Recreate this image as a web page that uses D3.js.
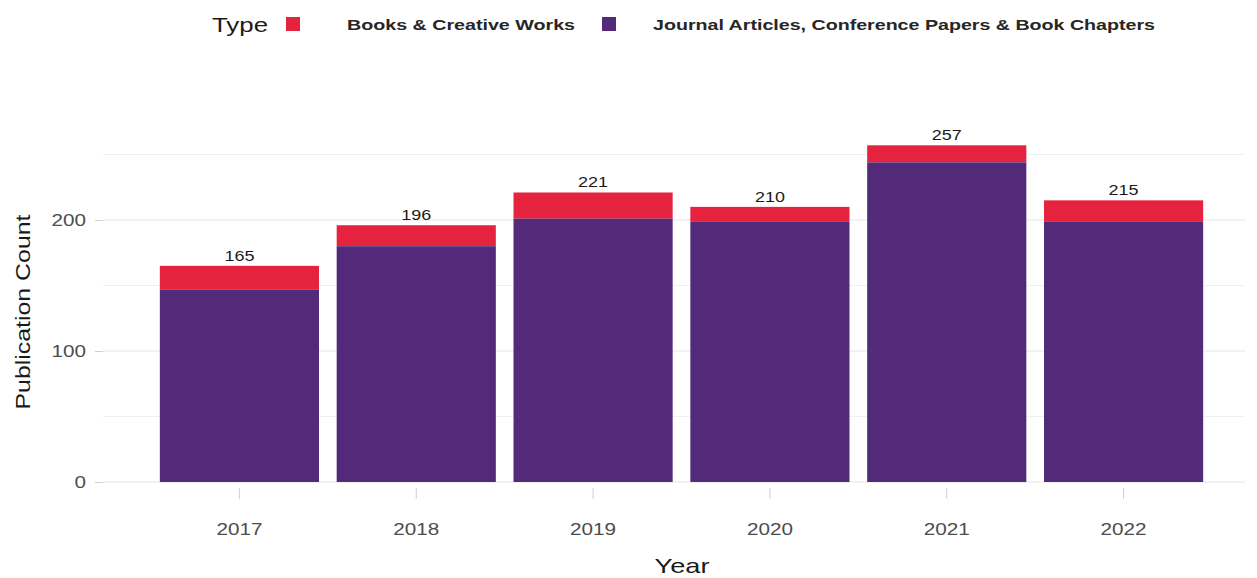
<!DOCTYPE html>
<html>
<head>
<meta charset="utf-8">
<script src="https://cdn.jsdelivr.net/npm/d3@7"></script>
<style>
  body { margin: 0; background: #fff; }
  text { font-family: "Liberation Sans", Arial, sans-serif; }
</style>
</head>
<body>
<div id="chart"></div>
<script>
// data
const years = ["2017", "2018", "2019", "2020", "2021", "2022"];
const journalCounts = [147, 180, 201, 199, 244, 199];
const bookCounts = [18, 16, 20, 11, 13, 16];
const seriesNames = ["Books & Creative Works", "Journal Articles, Conference Papers & Book Chapters"];
const seriesColors = ["#e5233f", "#532a7a"];
const yMajorTicks = [0, 100, 200];
const yMinorTicks = [50, 150, 250];

const width = 1257, height = 578;
const panel = { left: 103, right: 1245 };

const svg = d3.select("#chart").append("svg")
    .attr("width", width)
    .attr("height", height);

const x = d3.scaleBand()
    .domain(years)
    .range([151, 1212])
    .paddingInner(0.1)
    .paddingOuter(0.05);

const y = d3.scaleLinear()
    .domain([0, 250])
    .range([482, 154.5]);

// grid lines
svg.append("g").selectAll("line.minor")
    .data(yMinorTicks)
    .join("line")
    .attr("x1", panel.left).attr("x2", panel.right)
    .attr("y1", d => y(d)).attr("y2", d => y(d))
    .attr("stroke", "#f0f0f0")
    .attr("stroke-width", 1);

svg.append("g").selectAll("line.major")
    .data(yMajorTicks)
    .join("line")
    .attr("x1", panel.left).attr("x2", panel.right)
    .attr("y1", d => y(d)).attr("y2", d => y(d))
    .attr("stroke", "#e6e6e6")
    .attr("stroke-width", 1.2);

// stacked bars
const rows = years.map((yr, i) => ({ year: yr, journal: journalCounts[i], books: bookCounts[i] }));
const stack = d3.stack().keys(["books", "journal"]).order(d3.stackOrderReverse);
const layers = stack(rows);

svg.append("g").selectAll("g")
    .data(layers)
    .join("g")
    .attr("fill", d => d.key === "books" ? seriesColors[0] : seriesColors[1])
    .selectAll("rect")
    .data(d => d)
    .join("rect")
    .attr("x", d => x(d.data.year))
    .attr("width", x.bandwidth())
    .attr("y", d => y(d[1]))
    .attr("height", d => y(d[0]) - y(d[1]));

// totals above bars
svg.append("g").selectAll("text")
    .data(rows)
    .join("text")
    .attr("x", d => x(d.year) + x.bandwidth() / 2)
    .attr("y", d => y(d.journal + d.books) - 5)
    .attr("text-anchor", "middle")
    .attr("font-size", 15)
    .attr("fill", "#1a1a1a")
    .attr("textLength", d => String(d.journal + d.books).length * 10)
    .attr("lengthAdjust", "spacingAndGlyphs")
    .text(d => d.journal + d.books);

// y axis
const yAxis = svg.append("g")
    .attr("transform", `translate(${panel.left},0)`)
    .call(d3.axisLeft(y).tickValues(yMajorTicks).tickSize(8).tickPadding(9));
yAxis.select(".domain").remove();
yAxis.selectAll(".tick line").attr("stroke", "#cfcfcf");
yAxis.selectAll(".tick text")
    .attr("font-size", 17)
    .attr("fill", "#4d4d4d")
    .attr("font-family", "Liberation Sans, Arial, sans-serif")
    .attr("textLength", d => String(d).length * 11.5)
    .attr("lengthAdjust", "spacingAndGlyphs");

// x axis
const xAxis = svg.append("g")
    .attr("transform", "translate(0,488)")
    .call(d3.axisBottom(x).tickSize(11).tickPadding(24));
xAxis.select(".domain").remove();
xAxis.selectAll(".tick line").attr("stroke", "#cfcfcf");
xAxis.selectAll(".tick text")
    .attr("font-size", 17)
    .attr("fill", "#4d4d4d")
    .attr("font-family", "Liberation Sans, Arial, sans-serif")
    .attr("textLength", 46)
    .attr("lengthAdjust", "spacingAndGlyphs");

// axis titles
svg.append("text")
    .attr("x", 682).attr("y", 573)
    .attr("text-anchor", "middle")
    .attr("font-size", 21)
    .attr("fill", "#1a1a1a")
    .attr("textLength", 55)
    .attr("lengthAdjust", "spacingAndGlyphs")
    .text("Year");

svg.append("text")
    .attr("transform", "translate(30,312) rotate(-90)")
    .attr("text-anchor", "middle")
    .attr("font-size", 21)
    .attr("fill", "#1a1a1a")
    .attr("textLength", 195)
    .attr("lengthAdjust", "spacingAndGlyphs")
    .text("Publication Count");

// legend
const legend = svg.append("g");
legend.append("text")
    .attr("x", 212).attr("y", 32)
    .attr("font-size", 20)
    .attr("fill", "#1a1a1a")
    .attr("textLength", 56)
    .attr("lengthAdjust", "spacingAndGlyphs")
    .text("Type");

const legendX = [286, 602];
const labelX = [347, 653];
const labelLen = [228, 502];
seriesNames.forEach((name, i) => {
    legend.append("rect")
        .attr("x", legendX[i]).attr("y", 17)
        .attr("width", 14).attr("height", 14)
        .attr("fill", seriesColors[i]);
    legend.append("text")
        .attr("x", labelX[i]).attr("y", 30)
        .attr("font-size", 15)
        .attr("font-weight", "bold")
        .attr("fill", "#262626")
        .attr("textLength", labelLen[i])
        .attr("lengthAdjust", "spacingAndGlyphs")
        .text(name);
});
</script>
</body>
</html>
